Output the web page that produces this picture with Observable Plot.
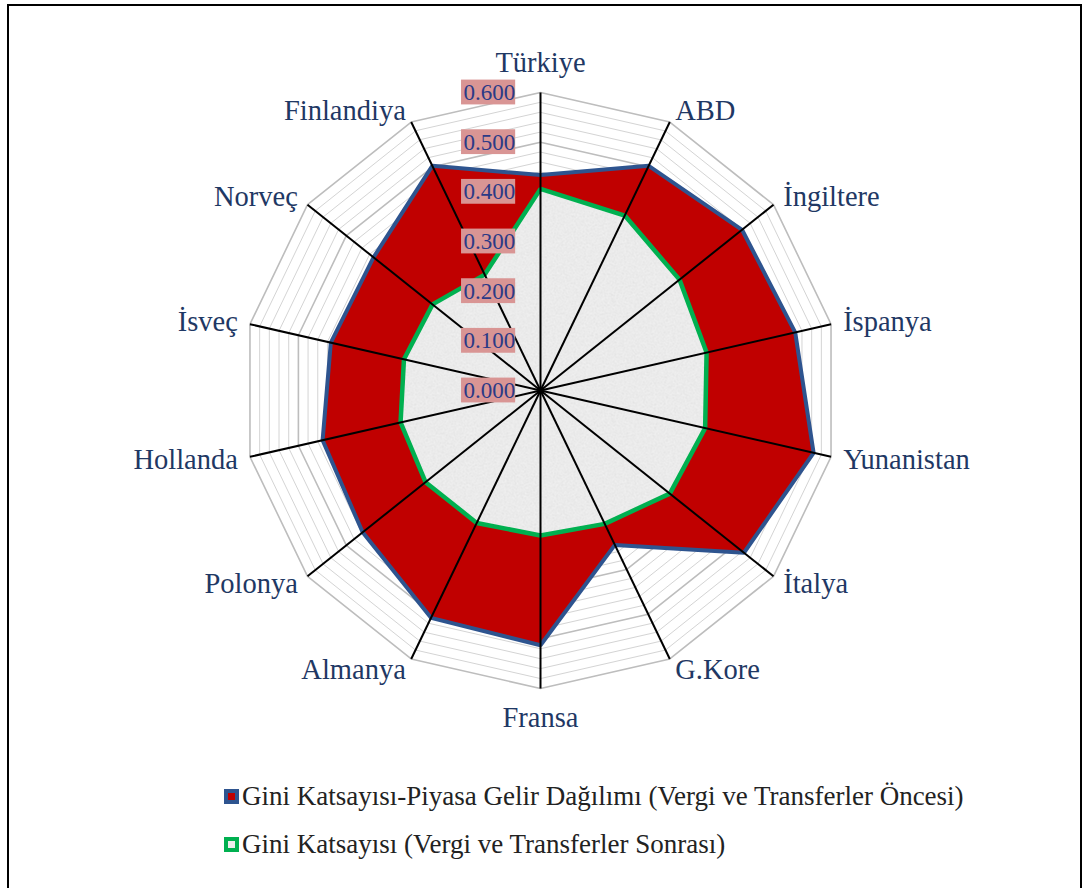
<!DOCTYPE html>
<html>
<head>
<meta charset="utf-8">
<script src="https://cdn.jsdelivr.net/npm/d3@7"></script>
<script src="https://cdn.jsdelivr.net/npm/@observablehq/plot@0.6"></script>
<style>
  body { margin: 0; background: #fff; width: 1085px; height: 888px; overflow: hidden; position: relative; }
  #frame { position: absolute; left: 7px; top: 4px; width: 1075px; height: 920px; border: 2px solid #000; box-sizing: border-box; }
  #chart { position: absolute; left: 0; top: 0; }
  #legend { position: absolute; left: 224px; top: 781px; font-family: "Liberation Serif", "Times New Roman", serif; }
  .item { display: flex; align-items: center; height: 31px; margin-bottom: 17px; font-size: 27px; color: #222; white-space: nowrap;
          font-family: "Liberation Serif", "Times New Roman", serif; }
  .sw { width: 15px; height: 15px; box-sizing: border-box; margin-right: 3px; flex: none; }
</style>
</head>
<body>
<svg width="0" height="0" style="position:absolute">
  <defs>
    <filter id="speckle" x="0" y="0" width="100%" height="100%">
      <feTurbulence type="fractalNoise" baseFrequency="0.9" numOctaves="2" seed="3" result="t"/>
      <feColorMatrix type="matrix" values="0 0 0 0 0.5  0 0 0 0 0.5  0 0 0 0 0.5  0 0 0 -1.8 1.15"/>
    </filter>
    <pattern id="noisePat" patternUnits="userSpaceOnUse" width="120" height="120">
      <rect width="120" height="120" fill="#F0F0F0"/>
      <rect width="120" height="120" filter="url(#speckle)" opacity="0.4"/>
    </pattern>
  </defs>
</svg>
<div id="frame"></div>
<div id="chart"></div>
<div id="legend"></div>
<script>
// ---- data ----
const categories = ["Türkiye", "ABD", "İngiltere", "İspanya", "Yunanistan", "İtalya", "G.Kore",
                    "Fransa", "Almanya", "Polonya", "Hollanda", "İsveç", "Norveç", "Finlandiya"];
const beforeTax = [0.434, 0.502, 0.519, 0.526, 0.564, 0.524, 0.345, 0.513, 0.508, 0.458, 0.450, 0.433, 0.430, 0.502];
const afterTax  = [0.406, 0.391, 0.358, 0.343, 0.340, 0.333, 0.298, 0.292, 0.296, 0.296, 0.289, 0.282, 0.278, 0.259];
const tickValues = [0, 0.1, 0.2, 0.3, 0.4, 0.5, 0.6];
const seriesNames = ["Gini Katsayısı-Piyasa Gelir Dağılımı (Vergi ve Transferler Öncesi)",
                     "Gini Katsayısı (Vergi ve Transferler Sonrası)"];

// ---- geometry helpers ----
const n = categories.length;
const ang = i => i * 2 * Math.PI / n;
const pt = (v, i) => ({x: v * Math.sin(ang(i)), y: v * Math.cos(ang(i))});
const maxV = 0.6;

const redPts = beforeTax.map((v, i) => pt(v, i));
const greenPts = afterTax.map((v, i) => pt(v, i));

const minorLevels = d3.range(1, 31).map(k => +(k * 0.02).toFixed(2)).filter(l => Math.round(l * 100) % 10 !== 0);
const gridPts = levels => levels.flatMap(l => categories.map((c, i) => ({level: l, ...pt(l, i)})));

const idx = categories.map((c, i) => i);
const side = i => { const s = Math.sin(ang(i)); return s > 0.1 ? "start" : s < -0.1 ? "end" : "middle"; };
const labelR = i => side(i) === "middle" ? 0.66 : 0.625;

const navy = "#1F3864";
const labelMark = anchor => Plot.text(idx.filter(i => side(i) === anchor), {
  x: i => labelR(i) * Math.sin(ang(i)),
  y: i => labelR(i) * Math.cos(ang(i)),
  text: i => categories[i],
  textAnchor: anchor, lineAnchor: "middle",
  fontSize: 28.5, fill: navy
});

const chart = Plot.plot({
  width: 1085, height: 770,
  margin: 0,
  x: {domain: [-maxV, maxV], range: [242, 838], axis: null},
  y: {domain: [-maxV, maxV], range: [688, 92], axis: null},
  style: {fontFamily: '"Liberation Serif", "Times New Roman", serif', background: "transparent", overflow: "visible"},
  marks: [
    Plot.line(gridPts(minorLevels), {x: "x", y: "y", z: "level", curve: "linear-closed", stroke: "#D4D4D4", strokeWidth: 1}),
    Plot.line(gridPts(tickValues.slice(1)), {x: "x", y: "y", z: "level", curve: "linear-closed", stroke: "#BDBDBD", strokeWidth: 1.6}),
    Plot.line(redPts, {x: "x", y: "y", curve: "linear-closed", fill: "#C00000", stroke: "#2E548F", strokeWidth: 4, strokeLinejoin: "miter"}),
    Plot.line(greenPts, {x: "x", y: "y", curve: "linear-closed", fill: "url(#noisePat)", stroke: "#00B050", strokeWidth: 4.5, strokeLinejoin: "miter"}),
    Plot.link(idx, {x1: 0, y1: 0, x2: i => maxV * Math.sin(ang(i)), y2: i => maxV * Math.cos(ang(i)), stroke: "#000", strokeWidth: 2}),
    Plot.rect(tickValues, {x1: -0.159, x2: -0.050, y1: d => d - 0.025, y2: d => d + 0.025, fill: "#D99594"}),
    Plot.text(tickValues, {x: -0.051, y: d => d, text: d => d.toFixed(3), textAnchor: "end", lineAnchor: "middle", fontSize: 23, fill: "#2B3A86"}),
    labelMark("start"),
    labelMark("end"),
    labelMark("middle")
  ]
});
document.getElementById("chart").appendChild(chart);

// ---- legend ----
const legend = document.getElementById("legend");
const swatches = [
  {border: "#2E548F", inner: "#C00000"},
  {border: "#00B050", inner: "#EDEDED"}
];
seriesNames.forEach((name, k) => {
  const item = document.createElement("div");
  item.className = "item";
  const sw = document.createElement("div");
  sw.className = "sw";
  sw.style.background = swatches[k].inner;
  sw.style.border = `4px solid ${swatches[k].border}`;
  item.appendChild(sw);
  const t = document.createElement("span");
  t.textContent = name;
  item.appendChild(t);
  legend.appendChild(item);
});
</script>
</body>
</html>
